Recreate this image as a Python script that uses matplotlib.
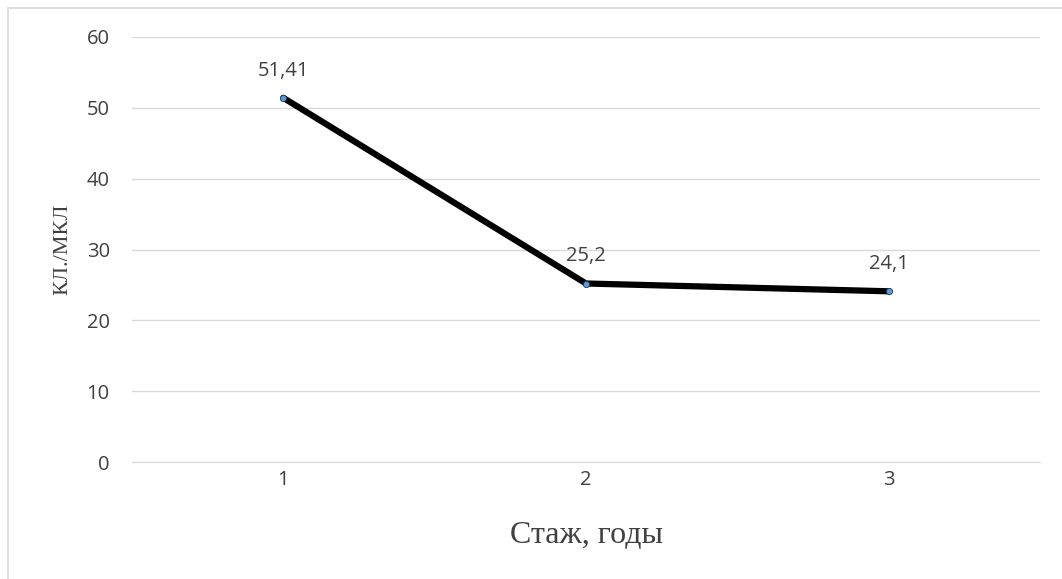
import matplotlib.pyplot as plt
from matplotlib.patches import Rectangle

# стаж и значения показателя
years = [1, 2, 3]
values = [51.41, 25.2, 24.1]
value_labels = ["51,41", "25,2", "24,1"]
y_ticks = [0, 10, 20, 30, 40, 50, 60]

fig = plt.figure(figsize=(10.62, 5.79), dpi=100)
ax = fig.add_axes([132 / 1062, 1 - 462 / 579, 908 / 1062, 425 / 579])

# рамка области диаграммы
fig.patches.append(Rectangle((7.5 / 1062, -0.1), 1.2, 1 - 7.5 / 579 + 0.1,
                             transform=fig.transFigure, fill=False,
                             edgecolor="#d9d9d9", linewidth=1.2))

ax.plot(years, values, color="black", linewidth=4.5, solid_capstyle="round",
        zorder=3)
ax.plot(years, values, linestyle="none", marker="o", markersize=4.5,
        markerfacecolor="#5b9bd5", markeredgecolor="#1f3864",
        markeredgewidth=0.6, zorder=4)

for x, y, s in zip(years, values, value_labels):
    ax.annotate(s, (x, y), xytext=(0, 19.5), textcoords="offset points",
                ha="center", va="center", fontsize=14.5, color="#404040",
                family="Open Sans")

ax.set_xlim(0.5, 3.5)
ax.set_ylim(0, 60)
ax.set_xticks(years)
ax.set_yticks(y_ticks)
ax.grid(axis="y", color="#d9d9d9", linewidth=1)
ax.set_axisbelow(True)
for side in ["top", "right", "left"]:
    ax.spines[side].set_visible(False)
ax.spines["bottom"].set_color("#d9d9d9")
ax.tick_params(length=0, labelsize=14.5, labelcolor="#404040")
ax.tick_params(axis="y", pad=16)
ax.tick_params(axis="x", pad=6)
for lbl in ax.get_xticklabels() + ax.get_yticklabels():
    lbl.set_family("Open Sans")

ax.set_xlabel("Стаж, годы", family="Liberation Serif", fontsize=23,
              color="#404040", labelpad=22)
ax.set_ylabel("КЛ./МКЛ", family="Liberation Serif", fontsize=16,
              color="#404040", labelpad=10)

fig.savefig("out.png", dpi=100)
